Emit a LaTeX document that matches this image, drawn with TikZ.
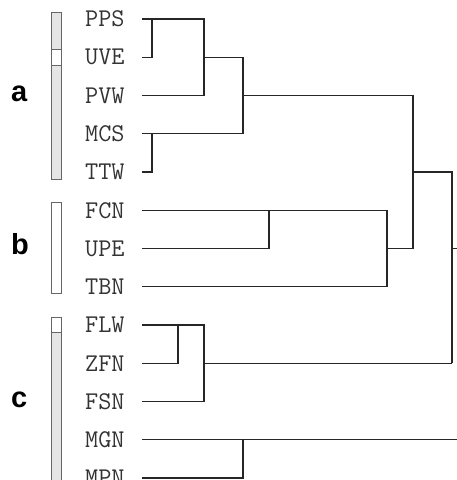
\documentclass[tikz,border=0pt]{standalone}
\usepackage{fontspec}
\newfontfamily\sansfnt{Liberation Sans}
\begin{document}
\begin{tikzpicture}[x=1pt,y=-1pt,
  leaf/.style={anchor=west,inner sep=0pt,font=\ttfamily\fontsize{25.5}{25}\selectfont,text=black!80},
  grp/.style={anchor=base west,inner sep=0pt,font=\sansfnt\bfseries\fontsize{29}{29}\selectfont},
  link/.style={draw=black!85,line width=1.3pt},
  barg/.style={draw=black!60,line width=0.9pt,fill=black!10},
  barw/.style={draw=black!60,line width=0.9pt,fill=white}]
\useasboundingbox (0,0) rectangle (457,480);
% bars
\draw[barg] (51,12) rectangle (61,179);
\draw[barw] (51,49) rectangle (61,65);
\draw[barw] (51,202) rectangle (61,293);
\draw[barg] (51,317) rectangle (61,495);
\draw[barw] (51,317) rectangle (61,332);
% group letters
\node[grp] (ga) at (11,101) {a};
\node[grp] (gb) at (11,254) {b};
\node[grp] (gc) at (11,407) {c};
% leaves
\foreach \n [count=\i from 0] in {PPS,UVE,PVW,MCS,TTW,FCN,UPE,TBN,FLW,ZFN,FSN,MGN,MPN}{
  \node[leaf] (\n) at (85,19+38.25*\i) {\n};
  \coordinate (s\n) at (142,19+38.25*\i);
}
% merge coordinates
\coordinate (m1) at (152,0);
\coordinate (m2) at (204,0);
\coordinate (m3) at (243,0);
\coordinate (m4) at (413,0);
\coordinate (m5) at (452,0);
\coordinate (m6) at (269,0);
\coordinate (m7) at (387,0);
\coordinate (m8) at (178,0);
\coordinate (edge) at (457,0);
% cluster a
\draw[link] (sPPS) -- (sPPS -| m2) -- (sPVW -| m2) -- (sPVW);
\draw[link] (sUVE) -- (sUVE -| m1) -- (sPPS -| m1);
\draw[link] (sUVE -| m2) -- (sUVE -| m3) -- (sMCS -| m3) -- (sMCS);
\draw[link] (sTTW) -- (sTTW -| m1) -- (sMCS -| m1);
\draw[link] (sPVW -| m3) -- (sPVW -| m4) -- (sUPE -| m4);
% cluster b
\draw[link] (sFCN) -- (sFCN -| m7) -- (sTBN -| m7) -- (sTBN);
\draw[link] (sUPE) -- (sUPE -| m6) -- (sFCN -| m6);
\draw[link] (sUPE -| m7) -- (sUPE -| m4);
\draw[link] (sTTW -| m4) -- (sTTW -| m5) -- (sZFN -| m5);
\draw[link] (sUPE -| m5) -- (sUPE -| edge);
% cluster c
\draw[link] (sFLW) -- (sFLW -| m2) -- (sFSN -| m2) -- (sFSN);
\draw[link] (sZFN) -- (sZFN -| m8) -- (sFLW -| m8);
\draw[link] (sZFN -| m2) -- (sZFN -| m5);
\draw[link] (sMGN) -- (sMGN -| edge);
\draw[link] (sMPN) -- (sMPN -| m3) -- (sMGN -| m3);
\end{tikzpicture}
\end{document}
